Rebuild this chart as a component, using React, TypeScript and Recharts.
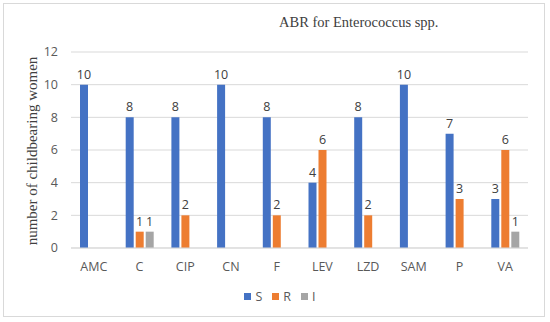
import {
  BarChart,
  Bar,
  XAxis,
  YAxis,
  CartesianGrid,
  Legend,
  LabelList,
} from "recharts";

const categories = ["AMC", "C", "CIP", "CN", "F", "LEV", "LZD", "SAM", "P", "VA"];
const sValues = [10, 8, 8, 10, 8, 4, 8, 10, 7, 3];
const rValues = [0, 1, 2, 0, 2, 6, 2, 0, 3, 6];
const iValues = [0, 1, 0, 0, 0, 0, 0, 0, 0, 1];
const yTicks = [0, 2, 4, 6, 8, 10, 12];

const data = categories.map((name, i) => ({
  name,
  S: sValues[i],
  R: rValues[i],
  I: iValues[i],
}));

const series = [
  { key: "S", color: "#4472C4" },
  { key: "R", color: "#ED7D31" },
  { key: "I", color: "#A5A5A5" },
];

const sans = "'Open Sans', 'Noto Sans', sans-serif";
const serif = "'Liberation Serif', 'DejaVu Serif', serif";

const hideZero = (v: any) => (Number(v) === 0 ? "" : v);

function LegendRow() {
  return (
    <div
      style={{
        display: "flex",
        justifyContent: "center",
        gap: 10,
        fontFamily: sans,
        fontSize: 12.5,
        color: "#595959",
        paddingLeft: 32,
      }}>
      {series.map((s) => (
        <div key={s.key} style={{ display: "flex", alignItems: "center", gap: 4 }}>
          <div style={{ width: 7, height: 7, background: s.color }} />
          <span>{s.key}</span>
        </div>
      ))}
    </div>
  );
}

export default function App() {
  return (
    <div style={{ position: "absolute", left: 0, top: 0, width: 550, height: 322, background: "#fff" }}>
      <div
        style={{
          position: "absolute",
          left: 3,
          top: 3,
          width: 540,
          height: 312,
          border: "1px solid #D9D9D9",
        }}
      />
      <div
        style={{
          position: "absolute",
          left: 279,
          top: 14,
          fontFamily: serif,
          fontSize: 14.5,
          color: "#404040",
          whiteSpace: "nowrap",
        }}>
        ABR for Enterococcus spp.
      </div>
      <div
        style={{
          position: "absolute",
          left: 32,
          top: 151,
          transform: "translate(-50%, -50%) rotate(-90deg)",
          fontFamily: serif,
          fontSize: 15,
          color: "#404040",
          whiteSpace: "nowrap",
        }}>
        number of childbearing women
      </div>
      <BarChart
        width={550}
        height={322}
        data={data}
        margin={{ top: 52, right: 22, left: 0, bottom: 10 }}
        barSize={8}
        barGap={2}
        style={{ position: "absolute", left: 0, top: 0 }}>
        <CartesianGrid vertical={false} stroke="#D9D9D9" />
        <XAxis
          dataKey="name"
          tick={{ fill: "#595959", fontSize: 12.5, fontFamily: sans }}
          axisLine={{ stroke: "#D9D9D9" }}
          tickLine={false}
          height={40}
          dy={6}
        />
        <YAxis
          domain={[0, 12]}
          ticks={yTicks}
          tick={{ fill: "#595959", fontSize: 12.5, fontFamily: sans, dx: -5 }}
          axisLine={false}
          tickLine={false}
          width={71}
        />
        <Legend verticalAlign="bottom" height={24} content={<LegendRow />} />
        {series.map((s) => (
          <Bar key={s.key} dataKey={s.key} fill={s.color} isAnimationActive={false}>
            <LabelList
              dataKey={s.key}
              position="top"
              formatter={hideZero}
              fill="#404040"
              fontSize={12.5}
              fontFamily={sans}
              offset={6}
            />
          </Bar>
        ))}
      </BarChart>
    </div>
  );
}
